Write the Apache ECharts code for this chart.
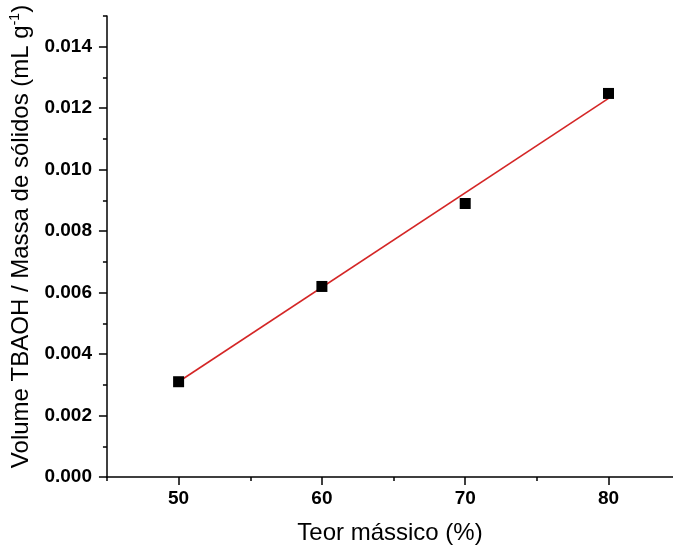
<!DOCTYPE html>
<html>
<head>
<meta charset="utf-8">
<script src="https://cdn.jsdelivr.net/npm/echarts@6/dist/echarts.min.js"></script>
<style>
html,body{margin:0;padding:0;background:#fff;}
#chart{width:673px;height:550px;}
</style>
</head>
<body>
<div id="chart"></div>
<script>
// Data
const xValues = [50, 60, 70, 80];
const yValues = [0.0031, 0.0062, 0.0089, 0.01248];
const fitX = [50, 80];
const fitY = [0.0031, 0.01232];
const xMajorTicks = [50, 60, 70, 80];
const xMinorTicks = [45, 55, 65, 75];
const yMajorTicks = [0, 0.002, 0.004, 0.006, 0.008, 0.010, 0.012, 0.014];
const yMinorTicks = [0.001, 0.003, 0.005, 0.007, 0.009, 0.011, 0.013, 0.015];
const xTitle = 'Teor mássico (%)';
const yTitle = 'Volume TBAOH / Massa de sólidos (mL g{sup|-1})';

const FONT = '"Liberation Sans", Arial, sans-serif';
const chart = echarts.init(document.getElementById('chart'), null, {renderer: 'canvas'});

const baseX = {
  type: 'value', min: 45, max: 84.5,
  splitLine: {show: false},
};
const baseY = {
  type: 'value', min: 0, max: 0.015,
  splitLine: {show: false},
};

chart.setOption({
  backgroundColor: '#fff',
  animation: false,
  grid: {left: 106, right: 0, top: 16, bottom: 73, containLabel: false},
  xAxis: [
    Object.assign({}, baseX, {
      position: 'bottom',
      axisLine: {show: true, lineStyle: {color: '#000', width: 1.5}},
      axisTick: {show: true, length: 8, inside: false, customValues: xMajorTicks, lineStyle: {color: '#000', width: 1.5}},
      axisLabel: {show: true, customValues: xMajorTicks, margin: 12, color: '#000', fontSize: 19, fontWeight: 'bold', fontFamily: FONT},
      name: xTitle, nameLocation: 'middle', nameGap: 44,
      nameTextStyle: {color: '#000', fontSize: 24, fontFamily: FONT}
    }),
    Object.assign({}, baseX, {
      position: 'bottom',
      axisLine: {show: false},
      axisTick: {show: true, length: 4, inside: false, customValues: xMinorTicks, lineStyle: {color: '#000', width: 1.5}},
      axisLabel: {show: false}
    })
  ],
  yAxis: [
    Object.assign({}, baseY, {
      position: 'left',
      axisLine: {show: true, lineStyle: {color: '#000', width: 1.5}},
      axisTick: {show: true, length: 8, inside: false, customValues: yMajorTicks, lineStyle: {color: '#000', width: 1.5}},
      axisLabel: {show: true, customValues: yMajorTicks, margin: 15, color: '#000', fontSize: 19, fontWeight: 'bold', fontFamily: FONT,
        formatter: v => Number(v).toFixed(3)},
      name: yTitle, nameLocation: 'middle', nameGap: 64, nameRotate: 90,
      nameTextStyle: {color: '#000', fontSize: 24, fontFamily: FONT, padding: [0, 0, 0, 20],
        rich: {sup: {fontSize: 14, fontFamily: FONT, color: '#000', padding: [0, 0, 13, 0]}}}
    }),
    Object.assign({}, baseY, {
      position: 'left',
      axisLine: {show: false},
      axisTick: {show: true, length: 4, inside: false, customValues: yMinorTicks, lineStyle: {color: '#000', width: 1.5}},
      axisLabel: {show: false}
    })
  ],
  series: [
    {
      type: 'line', name: 'fit',
      data: fitX.map((x, i) => [x, fitY[i]]),
      showSymbol: false, symbol: 'none',
      lineStyle: {color: '#d42626', width: 1.6},
      z: 2
    },
    {
      type: 'scatter', name: 'data',
      data: xValues.map((x, i) => [x, yValues[i]]),
      symbol: 'rect', symbolSize: 11,
      itemStyle: {color: '#000', opacity: 1},
      z: 3
    }
  ]
});
</script>
</body>
</html>
